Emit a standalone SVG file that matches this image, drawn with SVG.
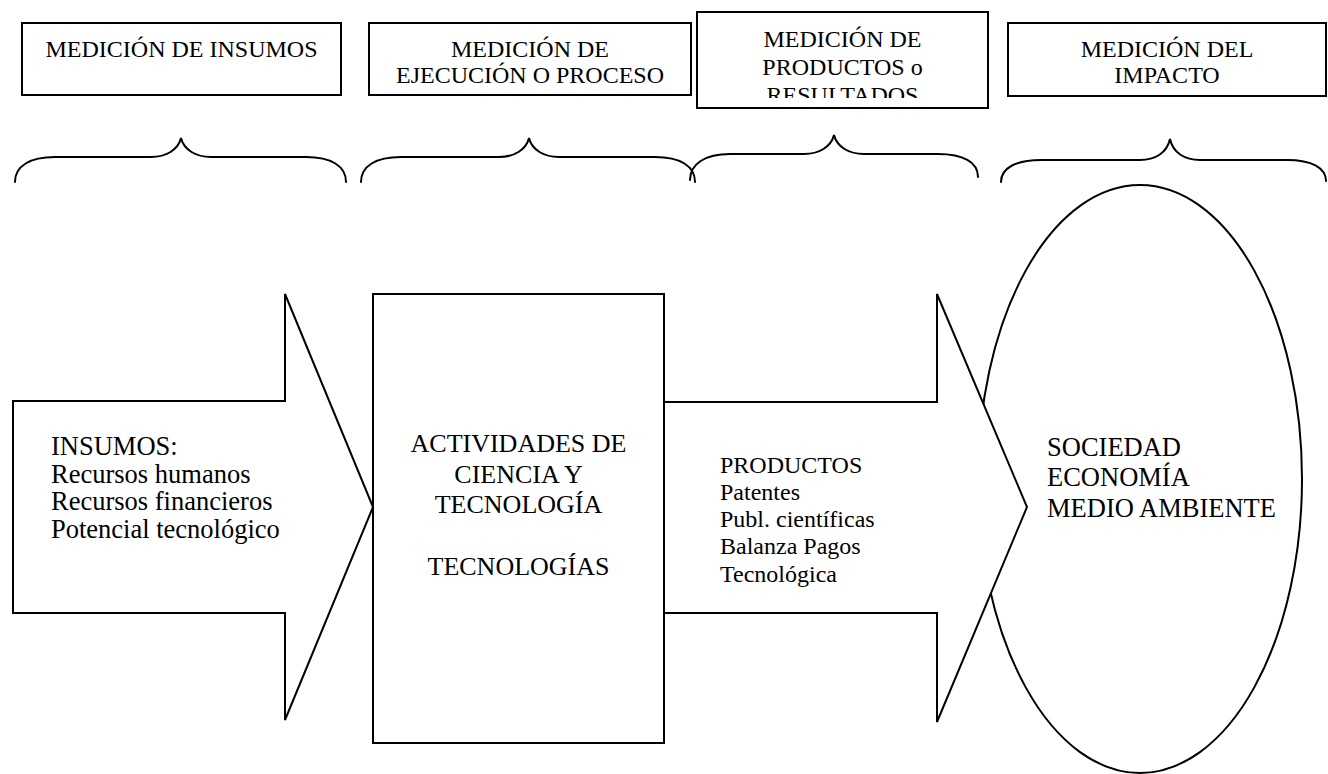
<svg xmlns="http://www.w3.org/2000/svg" width="1328" height="774" viewBox="0 0 1328 774">
  <style>
    .box { fill: #ffffff; stroke: #000000; stroke-width: 2; }
    .shape { fill: #ffffff; stroke: #000000; stroke-width: 2; stroke-linejoin: miter; }
    .brace { fill: none; stroke: #000000; stroke-width: 2; stroke-linecap: round; }
    .t { font-family: "Liberation Serif", "Times New Roman", serif; fill: #000000; }
    .hdr { font-size: 24px; text-anchor: middle; }
    .big { font-size: 26.5px; }
    .mid { font-size: 26px; text-anchor: middle; }
    .sm { font-size: 24px; }
  </style>
  <defs>
    <clipPath id="clip-box3">
      <rect x="697" y="12" width="291" height="86"/>
    </clipPath>
  </defs>
  <rect width="1328" height="774" fill="#ffffff"/>

  <g id="hdr-insumos">
    <rect class="box" x="22" y="23" width="319" height="72"/>
    <text class="t hdr" x="181.5" y="57">MEDICIÓN DE INSUMOS</text>
  </g>
  <g id="hdr-proceso">
    <rect class="box" x="369" y="23" width="322" height="72"/>
    <text class="t hdr" x="530" y="57">MEDICIÓN DE</text>
    <text class="t hdr" x="530" y="83">EJECUCIÓN O PROCESO</text>
  </g>
  <g id="hdr-productos">
    <rect class="box" x="697" y="12" width="291" height="96"/>
    <g clip-path="url(#clip-box3)">
      <text class="t hdr" x="842.5" y="47">MEDICIÓN DE</text>
      <text class="t hdr" x="842.5" y="75">PRODUCTOS o</text>
      <text class="t hdr" x="842.5" y="103">RESULTADOS</text>
    </g>
  </g>
  <g id="hdr-impacto">
    <rect class="box" x="1008" y="23" width="318" height="73"/>
    <text class="t hdr" x="1167" y="57">MEDICIÓN DEL</text>
    <text class="t hdr" x="1167" y="83">IMPACTO</text>
  </g>

  <g id="connectors">
    <path class="brace" d="M 15,182 C 15,166 30,157 55,157 L 151,157 C 166,157 178,150 181,138 C 184,150 196,157 211,157 L 306,157 C 331,157 346,166 346,182"/>
    <path class="brace" d="M 361,182 C 361,166 376,157 401,157 L 499,157 C 514,157 526,150 529,138 C 532,150 544,157 559,157 L 655,157 C 680,157 695,166 695,182"/>
    <path class="brace" d="M 690,180 C 690,164 705,154 730,154 L 804,154 C 819,154 831,147 834,135 C 837,147 849,154 864,154 L 938,154 C 963,154 978,162 978,177"/>
    <path class="brace" d="M 1001,182 C 1001,168 1016,160 1041,160 L 1140,160 C 1155,160 1167,153 1170,139 C 1173,153 1185,160 1200,160 L 1287,160 C 1312,160 1326,168 1326,181"/>
  </g>

  <g id="impacto">
    <ellipse class="shape" cx="1140" cy="479" rx="162" ry="294"/>
  </g>

  <g id="insumos">
    <polygon class="shape" points="13,401 285,401 285,294 373,507 285,720 285,613 13,613"/>
    <text class="t big" x="51" y="455">INSUMOS:</text>
    <text class="t big" x="51" y="482.5">Recursos humanos</text>
    <text class="t big" x="51" y="510">Recursos financieros</text>
    <text class="t big" x="51" y="537.5">Potencial tecnológico</text>
  </g>

  <g id="actividades">
    <rect class="box" x="373" y="294" width="291" height="449"/>
    <text class="t mid" x="518.5" y="452">ACTIVIDADES DE</text>
    <text class="t mid" x="518.5" y="483">CIENCIA Y</text>
    <text class="t mid" x="518.5" y="513">TECNOLOGÍA</text>
    <text class="t mid" x="518.5" y="575">TECNOLOGÍAS</text>
  </g>

  <g id="productos">
    <polygon class="shape" points="664,402 937,402 937,294 1027,507 937,722 937,613 664,613"/>
    <text class="t sm" x="720" y="473">PRODUCTOS</text>
    <text class="t sm" x="720" y="500">Patentes</text>
    <text class="t sm" x="720" y="527">Publ. científicas</text>
    <text class="t sm" x="720" y="554">Balanza Pagos</text>
    <text class="t sm" x="720" y="582">Tecnológica</text>
  </g>

  <g id="impacto-label">
    <text class="t big" x="1047" y="456">SOCIEDAD</text>
    <text class="t big" x="1047" y="486">ECONOMÍA</text>
    <text class="t big" x="1047" y="517">MEDIO AMBIENTE</text>
  </g>
</svg>
